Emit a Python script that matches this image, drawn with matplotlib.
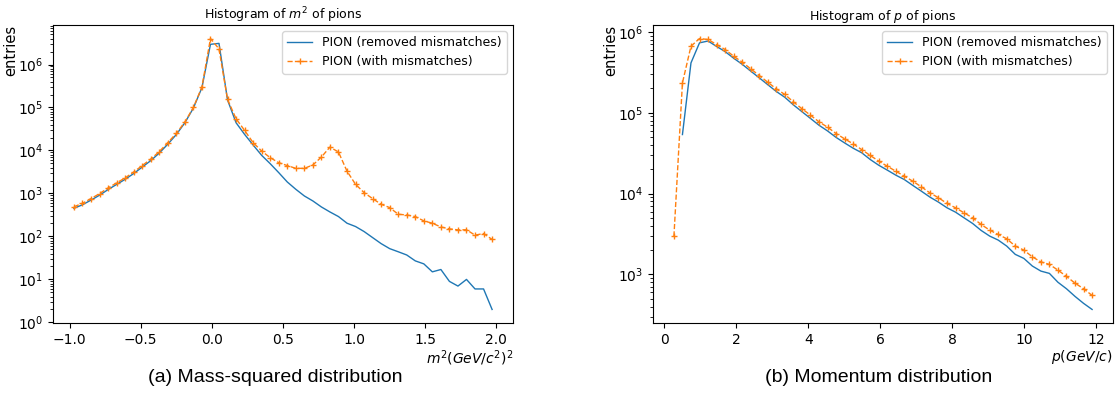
import numpy as np
import matplotlib
matplotlib.use("Agg")
import matplotlib.pyplot as plt

# bin edges of the two histograms (50 bins each)
m2_edges = np.linspace(-1.0, 2.0, 51)
p_edges = np.linspace(0.15, 12.0, 51)
m2_centers = 0.5 * (m2_edges[:-1] + m2_edges[1:])
p_centers = 0.5 * (p_edges[:-1] + p_edges[1:])

# m^2 histogram: removed mismatches / with mismatches
m2_removed = [450, 545, 700, 910, 1230, 1620, 2130, 2900, 4100, 5800,
              8700, 14000, 23500, 44000, 97000, 290000, 2950000, 3100000, 150000, 44200,
              23700, 13400, 7700, 4930, 3050, 1850, 1250, 875, 669, 485,
              371, 290, 203, 170, 130, 94, 68, 52, 44, 37,
              27, 23, 15, 17, 9, 7, 10, 6, 6, 2]
m2_with = [490, 590, 760, 990, 1340, 1760, 2300, 3150, 4450, 6300,
           9400, 15200, 25000, 46000, 100000, 300000, 4020000, 2310000, 154000, 54700,
           29300, 15200, 9700, 6790, 5200, 4450, 3840, 3840, 4590, 7040,
           12000, 9200, 3300, 1630, 1045, 758, 560, 469, 328, 316,
           290, 230, 203, 166, 150, 142, 143, 107, 117, 85]

# p histogram: removed mismatches / with mismatches
p_removed = [np.nan, 53700, 413000, 731000, 770000, 660000, 570000, 472000, 397000, 327000,
             270000, 222000, 183000, 155000, 125000, 103000, 85000, 70000, 59500, 49500,
             42300, 36400, 32000, 26400, 22400, 19500, 16900, 14900, 12600, 10700,
             9040, 7840, 6670, 5890, 5010, 4270, 3500, 2980, 2660, 2240,
             1770, 1580, 1270, 1100, 1030, 800, 665, 535, 439, 369]
p_with = [2950, 234000, 664000, 826000, 804000, 697000, 604000, 500000, 422000, 349000,
          288000, 238000, 197000, 168000, 136000, 112000, 93200, 77100, 66200, 55300,
          47500, 41200, 35000, 29600, 25200, 21800, 18900, 16400, 14200, 12100,
          10200, 8870, 7550, 6670, 5780, 5010, 4150, 3530, 3120, 2760,
          2240, 2000, 1650, 1430, 1330, 1130, 945, 780, 666, 550]

label_removed = 'PION (removed mismatches)'
label_with = 'PION (with mismatches)'


def draw_hist(ax, x, y_removed, y_with, title, xlabel):
    ax.plot(x, y_removed, color='C0', lw=1.0, label=label_removed)
    ax.plot(x, y_with, color='C1', lw=1.0, ls='--', marker='+', ms=4,
            label=label_with)
    ax.set_yscale('log')
    ax.set_title(title, fontsize=9, pad=3)
    ax.set_xlabel(xlabel, fontsize=10, loc='right', labelpad=1)
    ax.set_ylabel('entries', fontsize=10.5, loc='top', labelpad=0)
    ax.tick_params(labelsize=10)
    ax.legend(loc='upper right', fontsize=9)


fig = plt.figure(figsize=(11.17, 4.16), dpi=100)

ax1 = fig.add_axes([53 / 1117, 93 / 416, 460 / 1117, 298 / 416])
draw_hist(ax1, m2_centers, m2_removed, m2_with,
          'Histogram of $m^2$ of pions', '$m^2(GeV/c^2)^2$')

ax2 = fig.add_axes([653 / 1117, 93 / 416, 460 / 1117, 298 / 416])
draw_hist(ax2, p_centers, p_removed, p_with,
          'Histogram of $p$ of pions', '$p(GeV/c)$')

fig.text(275 / 1117, 1 - 378 / 416, '(a) Mass-squared distribution',
         ha='center', va='center', fontsize=14, family='Liberation Sans')
fig.text(879 / 1117, 1 - 378 / 416, '(b) Momentum distribution',
         ha='center', va='center', fontsize=14, family='Liberation Sans')

fig.savefig('out.png', dpi=100)
